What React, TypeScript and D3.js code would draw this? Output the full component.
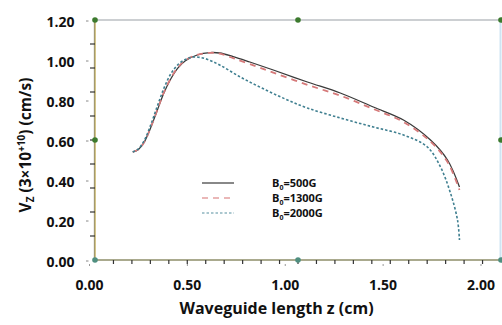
import React from "react";
import * as d3 from "d3";

const yTicks = [0, 0.2, 0.4, 0.6, 0.8, 1.0, 1.2];
const xTicks = [0, 0.5, 1.0, 1.5, 2.0];
const seriesNames = ["500G", "1300G", "2000G"];

const b500x = [0.221, 0.25, 0.28, 0.31, 0.345, 0.38, 0.415, 0.45, 0.49, 0.55, 0.616, 0.665, 0.734, 0.819, 0.939, 1.113, 1.281, 1.45, 1.604, 1.742, 1.829, 1.89];
const b500y = [0.54, 0.553, 0.59, 0.655, 0.745, 0.835, 0.905, 0.958, 0.996, 1.025, 1.037, 1.035, 1.017, 0.99, 0.95, 0.89, 0.835, 0.765, 0.7, 0.6, 0.5, 0.365];

const b1300x = [0.221, 0.25, 0.28, 0.31, 0.345, 0.38, 0.415, 0.45, 0.49, 0.55, 0.616, 0.665, 0.734, 0.819, 0.939, 1.113, 1.281, 1.45, 1.604, 1.742, 1.829, 1.89];
const b1300y = [0.54, 0.553, 0.59, 0.656, 0.747, 0.838, 0.908, 0.961, 0.999, 1.026, 1.036, 1.032, 1.009, 0.98, 0.937, 0.876, 0.822, 0.755, 0.69, 0.592, 0.49, 0.35];

const b2000x = [0.221, 0.25, 0.28, 0.31, 0.345, 0.38, 0.415, 0.45, 0.49, 0.53, 0.59, 0.665, 0.77, 0.88, 1.0, 1.113, 1.281, 1.45, 1.604, 1.726, 1.793, 1.844, 1.88, 1.89];
const b2000y = [0.54, 0.556, 0.598, 0.668, 0.765, 0.858, 0.93, 0.975, 1.003, 1.015, 1.007, 0.975, 0.915, 0.86, 0.805, 0.76, 0.71, 0.665, 0.625, 0.565, 0.465, 0.335, 0.2, 0.1];

const W = 502, H = 325;
const FONT = "'Open Sans', sans-serif";

export default function App() {
  // label scales
  const x = d3.scaleLinear().domain([0, 2]).range([89.5, 481]);
  const y = d3.scaleLinear().domain([0, 1.2]).range([260, 20]);
  // minor tick scales (secondary axis frame)
  const xm = d3.scaleLinear().domain([0, 2.2]).range([95, 501]);
  const ym = d3.scaleLinear().domain([0, 1]).range([260, 20]);

  const line = d3
    .line<[number, number]>()
    .x((d) => x(d[0]))
    .y((d) => y(d[1]))
    .curve(d3.curveCatmullRom.alpha(0.5));

  const zip = (a: number[], b: number[]) => a.map((v, i) => [v, b[i]] as [number, number]);

  const series = [
    { name: seriesNames[0], pts: zip(b500x, b500y), color: "#3a3a3a", width: 1.3, dash: "none", legColor: "#555", legDash: "none" },
    { name: seriesNames[1], pts: zip(b1300x, b1300y), color: "#d67a7a", width: 1.8, dash: "6,5", legColor: "#e3a0a0", legDash: "6,5" },
    { name: seriesNames[2], pts: zip(b2000x, b2000y), color: "#3f7f90", width: 1.6, dash: "2.5,2", legColor: "#8fb5c0", legDash: "2.5,2" },
  ];

  const xMinor = d3.range(1, 22).map((i) => i / 10);
  const yMinor = d3.range(1, 10).map((i) => i / 10);
  const handles: [number, number][] = [
    [95, 20], [298, 20], [501, 20],
    [95, 140], [501, 140],
    [95, 260], [298, 260], [501, 260],
  ];

  return (
    <svg width={W} height={H} style={{ position: "absolute", left: 0, top: 0, background: "#fff" }} fontFamily={FONT}>
      <rect width={W} height={H} fill="#fff" />
      {/* frame */}
      <line x1={95} x2={501} y1={20} y2={20} stroke="#9aa0a6" strokeWidth={1.2} />
      <line x1={500.5} x2={500.5} y1={20} y2={260} stroke="#cfe4f2" strokeWidth={2} />
      <line x1={95} x2={501} y1={260} y2={260} stroke="#8e8e68" strokeWidth={1.3} />
      <line x1={95} x2={95} y1={20} y2={260} stroke="#c9b66c" strokeWidth={1.6} />
      <line x1={94.3} x2={94.3} y1={20} y2={260} stroke="#6b6a50" strokeWidth={0.6} />

      {/* minor ticks */}
      {yMinor.map((v) => (
        <line key={"ym" + v} x1={90} x2={95} y1={ym(v)} y2={ym(v)} stroke="#333" strokeWidth={1.2} />
      ))}
      {xMinor.map((v) => (
        <line key={"xm" + v} x1={xm(v)} x2={xm(v)} y1={260} y2={264} stroke="#333" strokeWidth={1.2} />
      ))}

      {/* y labels */}
      {yTicks.map((v) => (
        <g key={"yt" + v}>
          <text x={74.5} y={y(v) + 6.8} textAnchor="end" fontSize={14} fontWeight={700} fill="#111">
            {v.toFixed(2)}
          </text>
          <line x1={86} x2={88.5} y1={y(v) + 1} y2={y(v) + 1} stroke="#888" strokeWidth={1} />
        </g>
      ))}
      {/* x labels */}
      {xTicks.map((v) => (
        <g key={"xt" + v}>
          <text x={x(v)} y={290} textAnchor="middle" fontSize={14} fontWeight={700} fill="#111">
            {v.toFixed(2)}
          </text>
          <line x1={x(v)} x2={x(v)} y1={264} y2={266} stroke="#999" strokeWidth={1} />
        </g>
      ))}

      {/* axis titles */}
      <text x={276.5} y={313.5} textAnchor="middle" fontSize={16} fontWeight={700} fill="#111">
        Waveguide length z (cm)
      </text>
      <text transform="translate(30.5,145) rotate(-90)" textAnchor="middle" fontSize={15.5} fontWeight={700} fill="#111">
        V<tspan fontSize={10} dy={3}>Z</tspan>
        <tspan dy={-3}> (3×10</tspan>
        <tspan fontSize={10} dy={-6}>+10</tspan>
        <tspan dy={6}>) (cm/s)</tspan>
      </text>

      {/* curves */}
      {series.map((s) => (
        <path key={s.name} d={line(s.pts) || ""} fill="none" stroke={s.color} strokeWidth={s.width} strokeDasharray={s.dash} />
      ))}

      {/* legend */}
      {series.map((s, i) => (
        <g key={"lg" + s.name} transform={`translate(0, ${183 + i * 15})`}>
          <line x1={202} x2={234} y1={0} y2={0} stroke={s.legColor} strokeWidth={1.4} strokeDasharray={s.legDash} />
          <text x={272} y={4} fontSize={11} fontWeight={700} fill="#111">
            B<tspan fontSize={7} dy={3}>0</tspan>
            <tspan dy={-3}>={s.name}</tspan>
          </text>
        </g>
      ))}

      {/* selection handles */}
      {handles.map((h, i) => (
        <circle key={"h" + i} cx={h[0]} cy={h[1]} r={2.8} fill={h[1] === 260 ? "#4f8f80" : "#3c7a2e"} />
      ))}
    </svg>
  );
}
